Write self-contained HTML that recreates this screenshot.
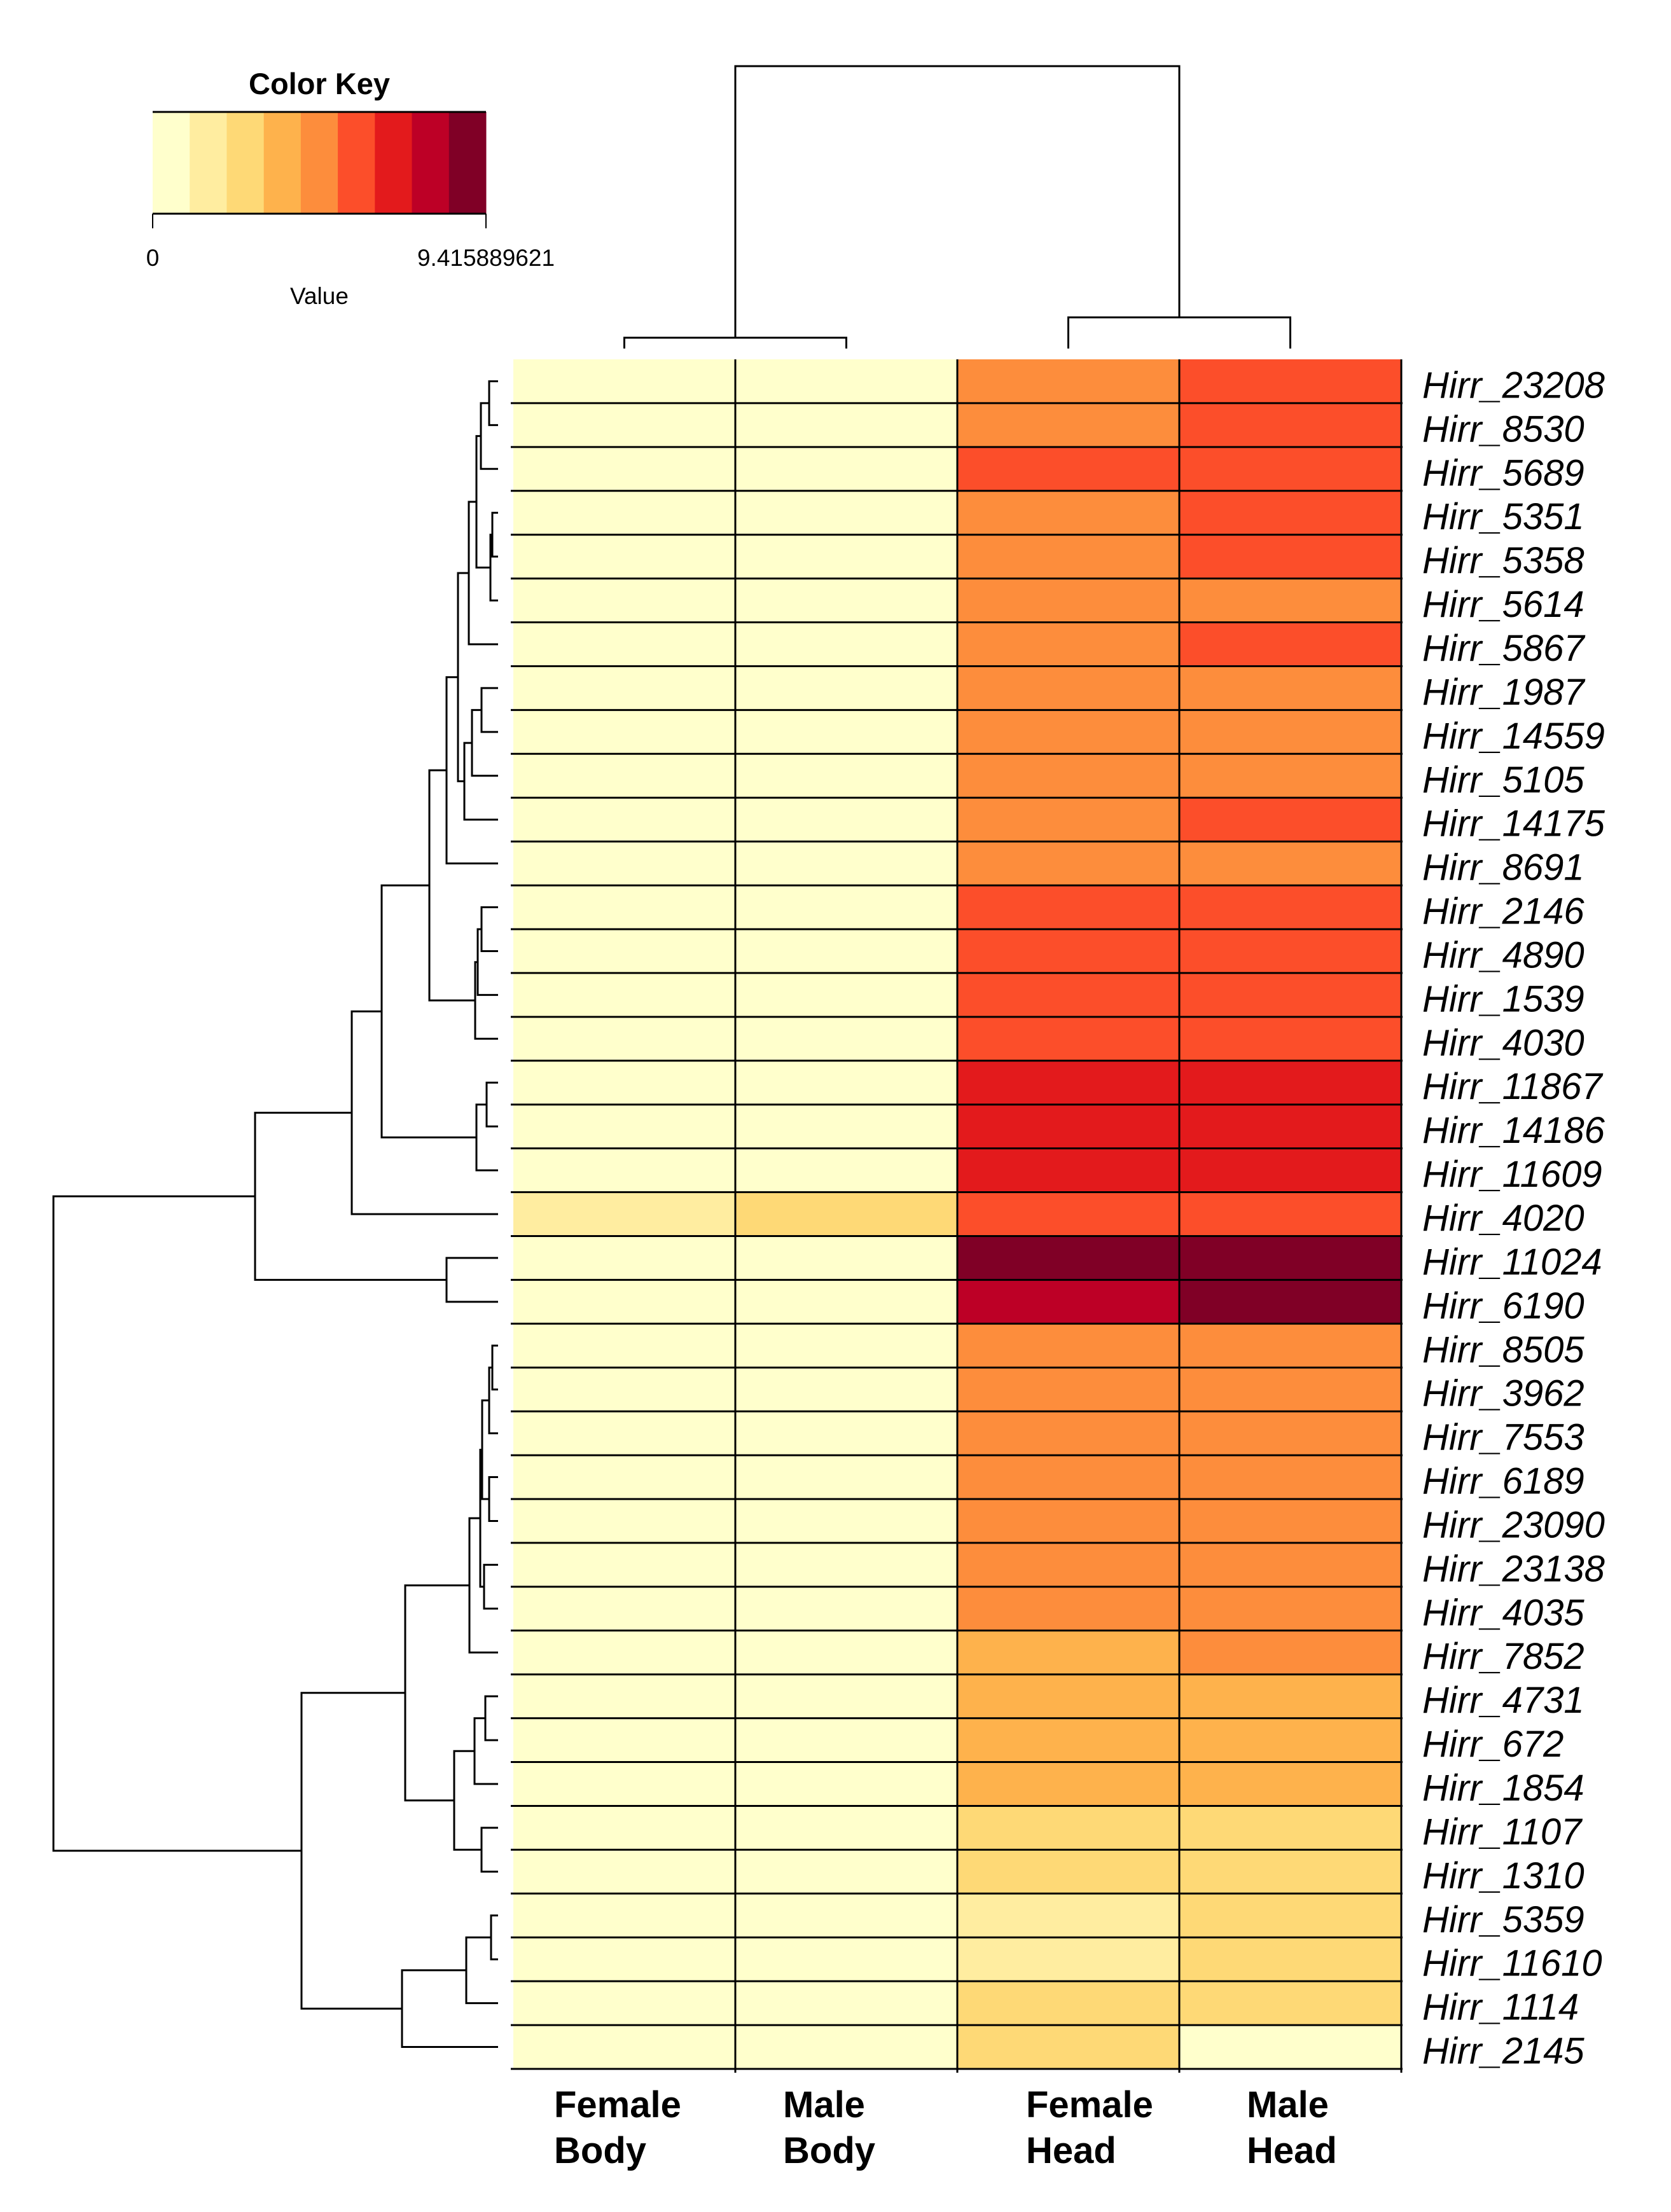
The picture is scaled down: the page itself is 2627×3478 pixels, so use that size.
<!DOCTYPE html>
<html><head><meta charset="utf-8">
<style>
html,body{margin:0;padding:0;background:#fff;}
svg{display:block;}
text{font-family:"Liberation Sans",Arial,sans-serif;fill:#000;}
</style></head>
<body>
<svg id="chart" width="2627" height="3478" viewBox="0 0 2627 3478" xmlns="http://www.w3.org/2000/svg">
  <g id="key"></g>
  <g id="coldend"></g>
  <g id="rowdend"></g>
  <g id="cells"></g>
  <g id="grid"></g>
  <g id="rowlabels"></g>
  <g id="collabels"></g>
</svg>
<script>
const genes = ["Hirr_23208","Hirr_8530","Hirr_5689","Hirr_5351","Hirr_5358","Hirr_5614","Hirr_5867","Hirr_1987","Hirr_14559","Hirr_5105","Hirr_14175","Hirr_8691","Hirr_2146","Hirr_4890","Hirr_1539","Hirr_4030","Hirr_11867","Hirr_14186","Hirr_11609","Hirr_4020","Hirr_11024","Hirr_6190","Hirr_8505","Hirr_3962","Hirr_7553","Hirr_6189","Hirr_23090","Hirr_23138","Hirr_4035","Hirr_7852","Hirr_4731","Hirr_672","Hirr_1854","Hirr_1107","Hirr_1310","Hirr_5359","Hirr_11610","Hirr_1114","Hirr_2145"];
const sampleTop = ["Female","Male","Female","Male"];
const sampleBottom = ["Body","Body","Head","Head"];
const femaleBody = [0.3,0.3,0.3,0.3,0.3,0.3,0.3,0.3,0.3,0.3,0.3,0.3,0.3,0.3,0.3,0.3,0.3,0.3,0.3,1.5,0.3,0.3,0.3,0.3,0.3,0.3,0.3,0.3,0.3,0.3,0.3,0.3,0.3,0.3,0.3,0.3,0.3,0.3,0.3];
const maleBody = [0.3,0.3,0.3,0.3,0.3,0.3,0.3,0.3,0.3,0.3,0.3,0.3,0.3,0.3,0.3,0.3,0.3,0.3,0.3,2.6,0.3,0.3,0.3,0.3,0.3,0.3,0.3,0.3,0.3,0.3,0.3,0.3,0.3,0.3,0.3,0.3,0.3,0.3,0.3];
const femaleHead = [4.7,4.7,5.7,4.7,4.7,4.7,4.7,4.7,4.7,4.7,4.7,4.7,5.7,5.7,5.7,5.7,6.8,6.8,6.8,5.7,8.9,7.8,4.7,4.7,4.7,4.7,4.7,4.7,4.7,3.6,3.6,3.6,3.6,2.6,2.6,1.5,1.5,2.6,2.6];
const maleHead = [5.7,5.7,5.7,5.7,5.7,4.7,5.7,4.7,4.7,4.7,5.7,4.7,5.7,5.7,5.7,5.7,6.8,6.8,6.8,5.7,8.9,8.9,4.7,4.7,4.7,4.7,4.7,4.7,4.7,4.7,3.6,3.6,3.6,2.6,2.6,2.6,2.6,2.6,0.3];
const keyMin = 0, keyMax = 9.415889621;
const palette = ["#FFFFCC","#FFEDA0","#FED976","#FEB24C","#FD8D3C","#FC4E2A","#E31A1C","#BD0026","#800026"];
const rowMerges = [
 [0,1,769],["n0",2,756],[3,4,774],["n2",5,771],["n1","n3",749],["n4",6,737],
 [7,8,757],["n6",9,742],["n7",10,730],["n5","n8",720],["n9",11,702],
 [12,13,757],["n11",14,751],["n12",15,747],["n10","n13",675],
 [16,17,765],["n15",18,749],["n14","n16",600],["n17",19,553],
 [20,21,702],["n18","n19",401],
 [22,23,774],["n21",24,769],[25,26,769],["n22","n23",758],[27,28,761],["n24","n25",755],["n26",29,738],
 [30,31,763],["n28",32,746],[33,34,757],["n29","n30",714],["n27","n31",637],
 [35,36,772],["n33",37,733],["n34",38,632],["n32","n35",474],
 ["n20","n36",84]
];
const NS="http://www.w3.org/2000/svg";
function mk(tag, attrs, parent){const e=document.createElementNS(NS,tag);for(const k in attrs)e.setAttribute(k,attrs[k]);parent.appendChild(e);return e;}
const X0=807, X1=2203, Y0=565, Y1=3253;
const nCol=4, nRow=genes.length;
const cw=(X1-X0)/nCol, rh=(Y1-Y0)/nRow;
const colX=i=>X0+cw*i, rowY=i=>Y0+rh*i;
function colorOf(v){let b=Math.floor((v-keyMin)/(keyMax-keyMin)*palette.length);b=Math.max(0,Math.min(palette.length-1,b));return palette[b];}
const cols=[femaleBody,maleBody,femaleHead,maleHead];
const cells=document.getElementById('cells');
for(let c=0;c<nCol;c++)for(let r=0;r<nRow;r++){
  const e=mk('rect',{x:colX(c),y:rowY(r),width:cw+0.5,height:rh+0.5,fill:colorOf(cols[c][r])},cells);
  
  
}
const grid=document.getElementById('grid');
for(let r=1;r<=nRow;r++){const e=mk('line',{x1:X0-4,x2:X1+2,y1:rowY(r),y2:rowY(r),stroke:'#000','stroke-width':3},grid);
  }
for(let c=1;c<=nCol;c++){const e=mk('line',{x1:colX(c),x2:colX(c),y1:Y0,y2:Y1+6,stroke:'#000','stroke-width':3},grid);
  }
const rl=document.getElementById('rowlabels');
genes.forEach((g,i)=>{const t=mk('text',{x:2236,y:rowY(i)+rh/2+26,'font-size':58,'font-style':'italic'},rl);t.textContent=g;
  });
const cl=document.getElementById('collabels');
const clx=[871,1231,1613,1960];
for(let c=0;c<nCol;c++){
  const t1=mk('text',{x:clx[c],y:3329,'font-size':58,'font-weight':'bold'},cl);t1.textContent=sampleTop[c];
  
  const t2=mk('text',{x:clx[c],y:3401,'font-size':58,'font-weight':'bold'},cl);t2.textContent=sampleBottom[c];
  
}
const rd=document.getElementById('rowdend');
const LEAFX=783;
const nodes=[];
function pos(ref){if(typeof ref==='number')return {x:LEAFX,y:rowY(ref)+rh/2};return nodes[+ref.slice(1)];}
rowMerges.forEach(m=>{
  const a=pos(m[0]),b=pos(m[1]),x=m[2];
  const p=mk('path',{d:`M${a.x},${a.y}H${x}V${b.y}H${b.x}`,fill:'none',stroke:'#000','stroke-width':3},rd);
  
  nodes.push({x:x,y:(a.y+b.y)/2});
});
const cd=document.getElementById('coldend');
const colMerges=[[0,1,531],[2,3,499],["n0","n1",104]];
const LEAFY=548;const cn=[];
function cpos(ref){if(typeof ref==='number')return {x:colX(ref)+cw/2,y:LEAFY};return cn[+ref.slice(1)];}
colMerges.forEach(m=>{const a=cpos(m[0]),b=cpos(m[1]),y=m[2];
  const p=mk('path',{d:`M${a.x},${a.y}V${y}H${b.x}V${b.y}`,fill:'none',stroke:'#000','stroke-width':3},cd);
  
  cn.push({x:(a.x+b.x)/2,y:y});});
const key=document.getElementById('key');
const KX0=240,KX1=764,KY0=176,KY1=336;
const kw=(KX1-KX0)/palette.length;
palette.forEach((c,i)=>{const e=mk('rect',{x:KX0+kw*i,y:KY0,width:kw+0.5,height:KY1-KY0,fill:c},key);
  });
mk('line',{x1:KX0,x2:KX1,y1:KY0,y2:KY0,stroke:'#000','stroke-width':3},key);
mk('line',{x1:KX0,x2:KX1,y1:KY1,y2:KY1,stroke:'#000','stroke-width':3},key);
mk('line',{x1:KX0,x2:KX0,y1:KY1,y2:359,stroke:'#000','stroke-width':2},key);
mk('line',{x1:KX1,x2:KX1,y1:KY1,y2:359,stroke:'#000','stroke-width':2},key);
const kt=mk('text',{x:502,y:148,'font-size':47,'font-weight':'bold','text-anchor':'middle'},key);kt.textContent='Color Key';

const k0=mk('text',{x:KX0,y:418,'font-size':37,'text-anchor':'middle'},key);k0.textContent=String(keyMin);

const k1=mk('text',{x:KX1,y:418,'font-size':37,'text-anchor':'middle'},key);k1.textContent=String(keyMax);

const kv=mk('text',{x:502,y:478,'font-size':37,'text-anchor':'middle'},key);kv.textContent='Value';

</script>
</body></html>
